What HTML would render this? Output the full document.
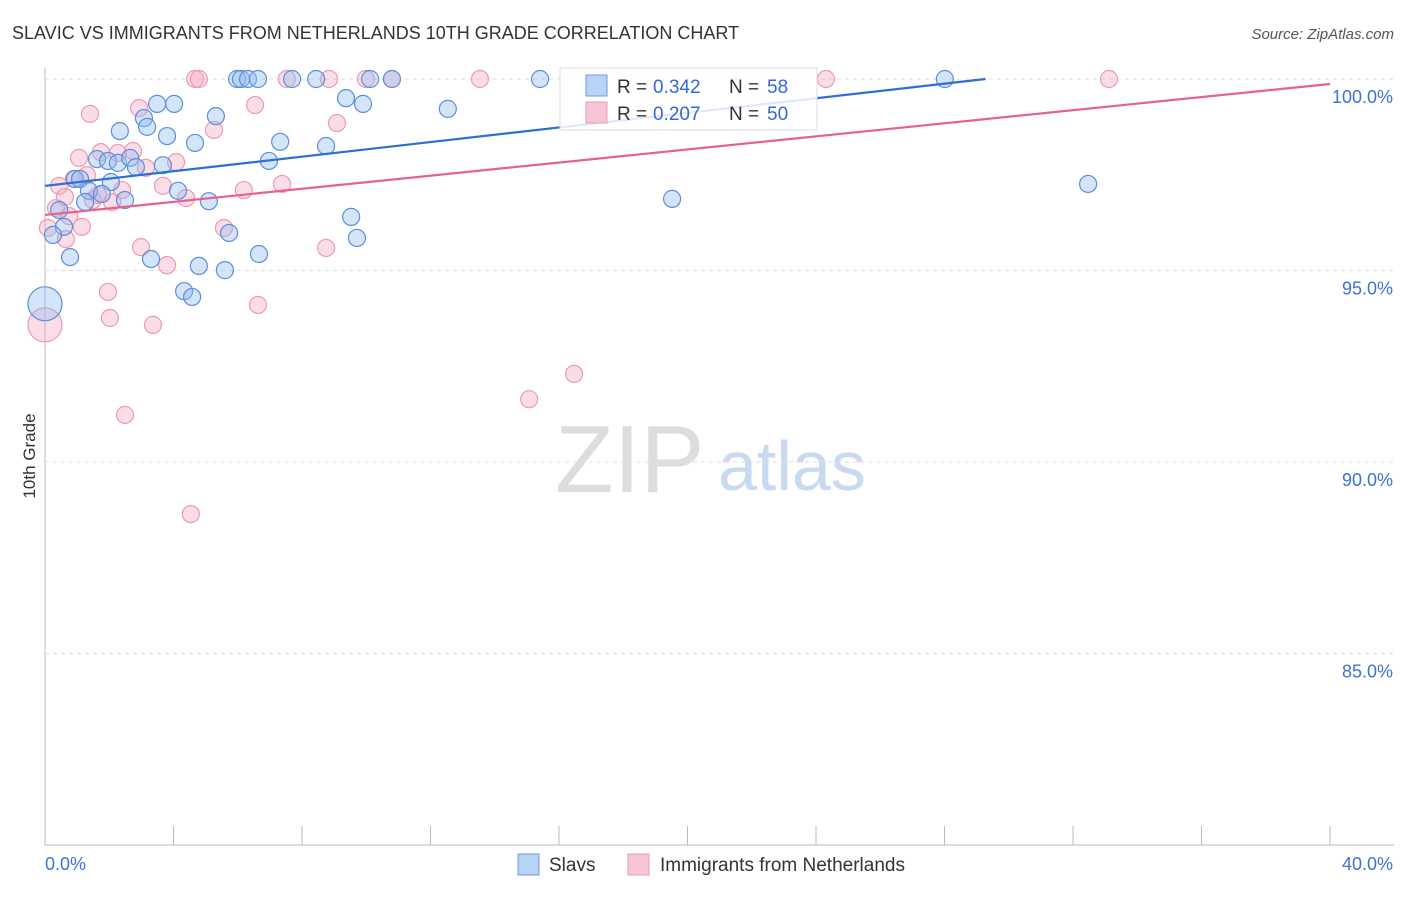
<!DOCTYPE html>
<html><head><meta charset="utf-8"><style>
body{margin:0;background:#fff;font-family:"Liberation Sans",sans-serif;}
svg text{font-family:"Liberation Sans",sans-serif;}
</style></head><body>
<svg id="c" width="1406" height="892">
<text x="12" y="39" font-size="18" fill="#333">SLAVIC VS IMMIGRANTS FROM NETHERLANDS 10TH GRADE CORRELATION CHART</text>
<text x="1394" y="39" font-size="15" fill="#555" font-style="italic" text-anchor="end">Source: ZipAtlas.com</text>
<text x="35" y="456" font-size="17" fill="#333" text-anchor="middle" transform="rotate(-90 35 456)">10th Grade</text>
<text x="555" y="492" font-size="96" fill="#ddd" font-family="Liberation Serif,serif">ZIP</text>
<text x="718" y="490" font-size="70" fill="#c9d9f0">atlas</text>
<g id="grid"></g><g id="pts"></g><g id="lines"></g>
<g>
<rect x="560" y="68" width="257" height="62" fill="#fff" fill-opacity="0.85" stroke="#ddd"/>
<rect x="586" y="75" width="21" height="21" fill="#b9d3f5" stroke="#6b9be0"/>
<rect x="586" y="102" width="21" height="21" fill="#f8c5d6" stroke="#ec9ab5"/>
<g font-size="19" fill="#333">
<text x="617" y="93">R =</text><text x="653" y="93" fill="#3567d6">0.342</text><text x="729" y="93">N =</text><text x="767" y="93" fill="#3567d6">58</text></g>
<g font-size="19" fill="#333">
<text x="617" y="120">R =</text><text x="653" y="120" fill="#3567d6">0.207</text><text x="729" y="120">N =</text><text x="767" y="120" fill="#3567d6">50</text></g>
</g>
<g>
<rect x="518" y="854" width="21" height="21" fill="#b9d3f5" stroke="#6b9be0"/>
<text x="549" y="871" font-size="19" fill="#333">Slavs</text>
<rect x="628" y="854" width="21" height="21" fill="#f8c5d6" stroke="#ec9ab5"/>
<text x="660" y="871" font-size="19" fill="#333">Immigrants from Netherlands</text>
</g>
</svg>
<script>
const xTicks=[0,4,8,12,16,20,24,28,32,36,40];
const yTicks=[85,90,95,100];
const xLabels=["0.0%","40.0%"];
const blueX=[5.98,6.10,6.32,6.63,7.69,8.44,10.12,10.80,15.41,28.01,3.49,4.02,9.37,9.90,12.54,5.32,3.08,2.33,3.18,3.80,4.67,7.32,8.75,1.62,1.96,2.27,2.65,2.83,3.67,6.97,0.93,1.09,2.05,1.37,1.77,4.14,1.25,2.49,5.10,19.52,32.47,0.44,9.53,0.59,0.25,5.73,9.71,0.78,3.30,4.79,5.60,6.66,4.33,4.58,0];
const blueY=[100,100,100,100,100,100,100,100,100,100,99.35,99.35,99.5,99.35,99.22,99.03,98.98,98.64,98.75,98.51,98.33,98.36,98.25,97.91,97.86,97.81,97.94,97.7,97.75,97.86,97.39,97.39,97.31,97.08,97.0,97.08,96.79,96.84,96.81,96.87,97.26,96.58,96.4,96.14,95.93,95.98,95.85,95.35,95.3,95.12,95.01,95.43,94.46,94.31,94.13];
const blueR=blueX.map((v,i)=>i===blueX.length-1?17:8.5);
const pinkX=[4.67,4.79,7.53,8.84,9.99,10.80,13.54,24.31,33.12,1.40,2.93,6.54,5.26,9.09,1.06,1.74,2.74,2.27,4.08,3.14,1.31,0.44,0.90,3.67,2.40,6.19,7.38,4.39,2.09,1.49,0.34,0.75,1.15,0.09,0.65,5.57,2.99,8.75,3.80,1.96,2.02,3.36,6.63,0,16.47,15.07,2.49,4.54,0.62,1.65];
const pinkY=[100,100,100,100,100,100,100,100,100,99.09,99.24,99.32,98.67,98.85,97.94,98.09,98.12,98.07,97.83,97.68,97.49,97.21,97.39,97.21,97.1,97.1,97.26,96.89,96.79,96.84,96.63,96.42,96.14,96.11,95.82,96.11,95.61,95.59,95.14,94.44,93.76,93.58,94.1,93.58,92.3,91.64,91.23,88.64,96.92,96.97];
const blueTrend=[97.21,0.0953];
const pinkTrend=[96.45,0.0855];
const X=v=>45+v*1285/40, Y=v=>79+(100-v)*38.3;
const NS="http://www.w3.org/2000/svg";
function mk(t,a,p){const e=document.createElementNS(NS,t);for(const k in a)e.setAttribute(k,a[k]);p.appendChild(e);return e;}
const g=document.getElementById('grid');
const ax=mk('line',{x1:45,y1:68,x2:45,y2:845,stroke:'#bbb'},g);


const bx=mk('line',{x1:45,y1:845,x2:1394,y2:845,stroke:'#bbb'},g);


yTicks.forEach(t=>{
 const l=mk('line',{x1:45,y1:Y(t),x2:1394,y2:Y(t),stroke:'#ddd','stroke-dasharray':'4,4'},g);
 
 
 const tx=mk('text',{x:1393,y:Y(t)+24,'font-size':18,fill:'#3d72d6','text-anchor':'end'},g);
 tx.textContent=t.toFixed(1)+'%';
 
 
});
xTicks.forEach(t=>{
 const l=mk('line',{x1:X(t),y1:826,x2:X(t),y2:845,stroke:'#bbb'},g);
 
 
});
[[0,'start'],[40,'end']].forEach((p,i)=>{
 const tx=mk('text',{x:i?1393:45,y:870,'font-size':18,fill:'#3d72d6','text-anchor':p[1]},g);
 tx.textContent=xLabels[i];
 
 
});
const pg=document.getElementById('pts');
pinkX.forEach((v,i)=>{
 const c=mk('circle',{cx:X(v),cy:Y(pinkY[i]),r:i===43?17:8.5,fill:'rgba(244,170,195,0.4)',stroke:'#ec9ab5','stroke-width':1.2},pg);
 
 
});
blueX.forEach((v,i)=>{
 const c=mk('circle',{cx:X(v),cy:Y(blueY[i]),r:blueR[i],fill:'rgba(147,187,240,0.4)',stroke:'#5b8fdc','stroke-width':1.2},pg);
 
 
});
const lg=document.getElementById('lines');
const bEnd=(100-blueTrend[0])/blueTrend[1];
const bl=mk('line',{x1:X(0),y1:Y(blueTrend[0]),x2:X(bEnd),y2:Y(100),stroke:'#2c6fd6','stroke-width':2.2},lg);


const pl=mk('line',{x1:X(0),y1:Y(pinkTrend[0]),x2:X(40),y2:Y(pinkTrend[0]+40*pinkTrend[1]),stroke:'#e8608e','stroke-width':2.2},lg);


</script>
</body></html>
